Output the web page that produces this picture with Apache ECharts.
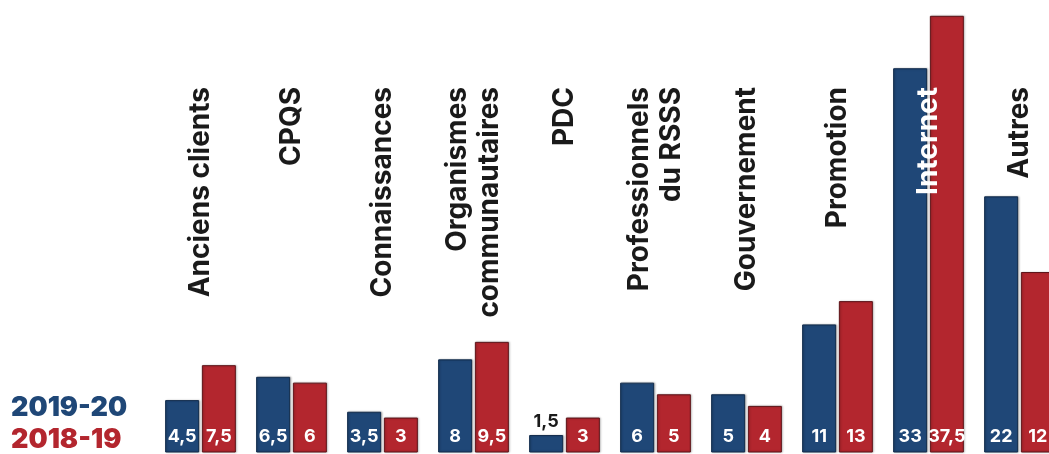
<!DOCTYPE html>
<html>
<head>
<meta charset="utf-8">
<script src="https://cdn.jsdelivr.net/npm/echarts@6/dist/echarts.min.js"></script>
<style>
html,body{margin:0;padding:0;background:#fff;overflow:hidden;width:1049px;height:454px;}
#chart{width:1065px;height:454px;}
</style>
</head>
<body>
<div id="chart"></div>
<script>
const categories = ['Anciens clients','CPQS','Connaissances','Organismes\ncommunautaires','PDC','Professionnels\ndu RSSS','Gouvernement','Promotion','Internet','Autres'];
const seriesNames = ['2019-20','2018-19'];
// bar heights as drawn
const values2019 = [4.5, 6.5, 3.5, 8, 1.5, 6, 5, 11, 33, 22];
const values2018 = [7.5, 6, 3, 9.5, 3, 5, 4, 13, 37.5, 15.5];
// values as printed on the bars
const printed2019 = [4.5, 6.5, 3.5, 8, 1.5, 6, 5, 11, 33, 22];
const printed2018 = [7.5, 6, 3, 9.5, 3, 5, 4, 13, 37.5, 12];

const BLUE = '#1f4777';
const RED = '#b3262e';
const FONT = 'Inter, "Open Sans", sans-serif';

function fmt(v){ return String(v).replace('.', ','); }

function makeData(vals){
  return vals.map((v) => {
    const item = { value: v };
    if (v < 2.5) {
      item.label = { position: 'top', color: '#1a1a1a', distance: 4 };
    }
    return item;
  });
}

const chart = echarts.init(document.getElementById('chart'), null, {renderer: 'canvas'});
const gridL = 155, gridR = 0;
chart.setOption({
  animation: false,
  backgroundColor: '#ffffff',
  legend: {
    orient: 'vertical',
    left: 5,
    top: 394,
    height: 80,
    padding: 0,
    itemWidth: 0,
    itemHeight: 0,
    itemGap: 4,
    selectedMode: false,
    data: [
      { name: seriesNames[0], textStyle: { color: BLUE } },
      { name: seriesNames[1], textStyle: { color: RED } }
    ],
    textStyle: { fontFamily: FONT, fontSize: 27, fontWeight: 900, lineHeight: 28 }
  },
  grid: [
    { left: gridL, right: gridR, top: 10, bottom: 1.5 },
    { left: gridL, right: gridR, top: 0, height: 84 }
  ],
  xAxis: [
    {
      type: 'category', data: categories, gridIndex: 0,
      axisLine: { show: false }, axisTick: { show: false }, axisLabel: { show: false }
    },
    {
      type: 'category', data: categories.map((c) => c === 'Internet'
        ? { value: c, textStyle: { color: '#ffffff' } } : c),
      gridIndex: 1, position: 'bottom', z: 10,
      axisLine: { show: false }, axisTick: { show: false },
      axisLabel: {
        interval: 0, rotate: 90, margin: 3,
        fontFamily: FONT, fontSize: 28, fontWeight: 'bold', color: '#1a1a1a', lineHeight: 32
      }
    }
  ],
  yAxis: [
    { type: 'value', min: 0, max: 38, gridIndex: 0, show: false, splitLine: { show: false } },
    { type: 'value', gridIndex: 1, show: false, splitLine: { show: false } }
  ],
  series: [
    {
      name: seriesNames[0], type: 'bar', xAxisIndex: 0, yAxisIndex: 0,
      barWidth: 34, barGap: '8%',
      data: makeData(values2019),
      itemStyle: { color: BLUE, borderColor: '#122c4d', borderWidth: 1,
        shadowColor: 'rgba(0,0,0,0.25)', shadowBlur: 2, shadowOffsetX: 1 },
      label: { show: true, position: 'insideBottom', distance: 7,
        fontFamily: FONT, fontSize: 18, fontWeight: 'bold', color: '#ffffff',
        formatter: (p) => fmt(printed2019[p.dataIndex]) }
    },
    {
      name: seriesNames[1], type: 'bar', xAxisIndex: 0, yAxisIndex: 0,
      barWidth: 34, barGap: '8%',
      data: makeData(values2018),
      itemStyle: { color: RED, borderColor: '#5e151a', borderWidth: 1,
        shadowColor: 'rgba(0,0,0,0.25)', shadowBlur: 2, shadowOffsetX: 1 },
      label: { show: true, position: 'insideBottom', distance: 7,
        fontFamily: FONT, fontSize: 18, fontWeight: 'bold', color: '#ffffff',
        formatter: (p) => fmt(printed2018[p.dataIndex]) }
    }
  ]
});
</script>
</body>
</html>
